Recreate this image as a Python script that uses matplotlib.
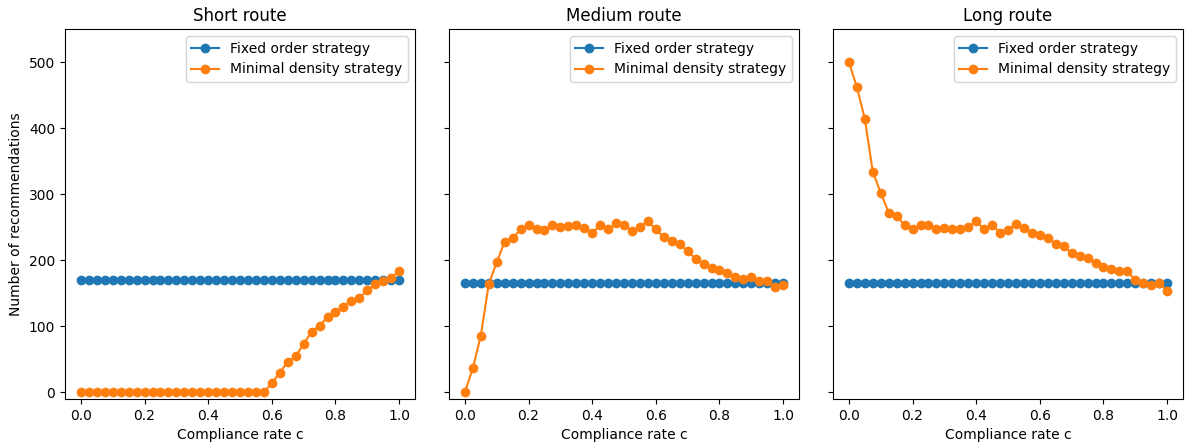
import numpy as np
import matplotlib
matplotlib.use("Agg")
import matplotlib.pyplot as plt

compliance = [round(i * 0.025, 3) for i in range(41)]

titles = ["Short route", "Medium route", "Long route"]

fixed_short = [170] * 41
fixed_medium = [165] * 41
fixed_long = [165] * 41

minimal_short = [0] * 24 + [14, 30, 46, 55, 73, 92, 101, 114, 122, 130, 139, 143,
                            155, 164, 168, 173, 184]
minimal_medium = [0, 37, 86, 164, 197, 228, 233, 247, 253, 247, 246, 253, 251, 252,
                  253, 249, 241, 253, 247, 256, 253, 245, 250, 259, 247, 235, 229,
                  224, 214, 202, 194, 188, 185, 180, 175, 172, 174, 169, 168, 159, 163]
minimal_long = [500, 462, 414, 334, 302, 272, 267, 253, 247, 253, 254, 247, 249, 248,
                247, 250, 259, 247, 253, 242, 246, 255, 249, 241, 238, 234, 224, 221,
                211, 207, 203, 196, 190, 187, 184, 183, 170, 166, 163, 166, 153]

fixed = [fixed_short, fixed_medium, fixed_long]
minimal = [minimal_short, minimal_medium, minimal_long]

fig = plt.figure(figsize=(11.89, 4.42), dpi=100)
W, H = 1189, 442
lefts = [65, 449, 833]
axw = 350
top, bottom = 29, 399
axes = []
for i, l in enumerate(lefts):
    ax = fig.add_axes([l / W, (H - bottom) / H, axw / W, (bottom - top) / H],
                      sharey=axes[0] if axes else None)
    axes.append(ax)
    ax.plot(compliance, fixed[i], marker="o", color="#1f77b4", label="Fixed order strategy")
    ax.plot(compliance, minimal[i], marker="o", color="#ff7f0e", label="Minimal density strategy")
    ax.set_title(titles[i])
    ax.set_xlabel("Compliance rate c")
    ax.legend(loc="upper right")
    if i > 0:
        ax.tick_params(labelleft=False)

axes[0].set_ylabel("Number of recommendations")
axes[0].set_ylim(-10, 550)
axes[0].set_yticks([0, 100, 200, 300, 400, 500])

fig.savefig("out.png", dpi=100)
